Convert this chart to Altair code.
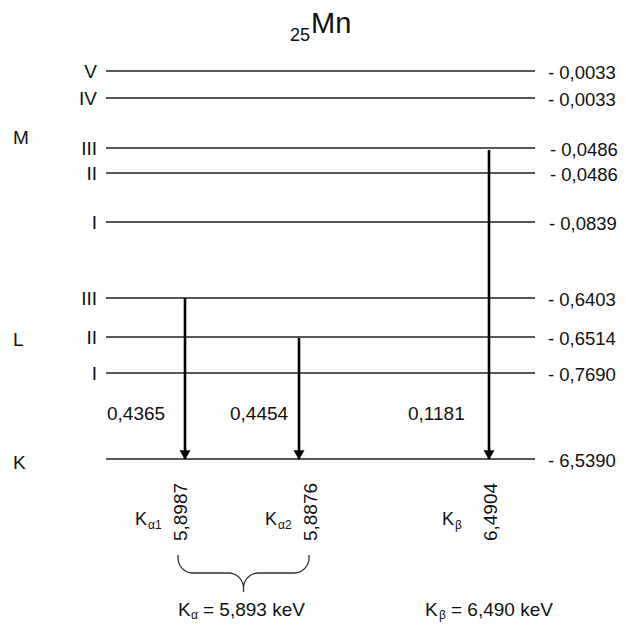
import altair as alt
import pandas as pd
import numpy as np

FONT = "Liberation Sans"
INK = "#111111"

# ---- title ----
title_symbol = "Mn"
title_z = "25"
title_pos = [311, 33]      # x, baseline y of symbol
title_z_pos = [310, 41]

# ---- shells (left labels) ----
shell_names = ["M", "L", "K"]
shell_y = [138, 340, 463]
shell_x = 13

# ---- levels ----
level_sub = ["V", "IV", "III", "II", "I", "III", "II", "I", ""]
level_energy = ["- 0,0033", "- 0,0033", "- 0,0486", "- 0,0486", "- 0,0839",
                "- 0,6403", "- 0,6514", "- 0,7690", "- 6,5390"]
level_y = [71, 98, 148, 173, 222, 298, 337, 373, 459]
level_label_x = [548, 548, 550, 550, 549, 548, 548, 548, 548]
line_x_start = 106
line_x_end = 535
sub_label_x = 97

# ---- transitions ----
trans_sym = ["K", "K", "K"]
trans_sub = ["α1", "α2", "β"]
trans_from_y = [298, 338, 150]
trans_to_y = [459, 459, 459]
trans_x = [185, 299, 489]
trans_delta = ["0,4365", "0,4454", "0,1181"]
trans_delta_x = [107, 230, 408]
trans_delta_y = [414, 414, 414]
trans_energy = ["5,8987", "5,8876", "6,4904"]
trans_energy_x = [187, 317, 497]
trans_energy_y = [512, 512, 512]
trans_k_x = [135, 265, 442]
trans_sub_x = [148, 278, 455]
trans_k_y = 525

# ---- summary ----
sum_sym = ["K", "K"]
sum_sub = ["α", "β"]
sum_text = ["= 5,893 keV", "= 6,490 keV"]
sum_k_x = [178, 425]
sum_sub_x = [191, 439]
sum_text_x = [203, 451]
sum_y = 616

# ---- brace under Kα1 / Kα2 ----
brace_left, brace_right = 178, 309
brace_top, brace_bar, brace_tip = 555, 573, 592
brace_r = 15

def arc(cx, cy, r, a0, a1, n=10):
    t = np.linspace(a0, a1, n)
    return list(zip(cx + r * np.cos(t), cy + r * np.sin(t)))

mid = (brace_left + brace_right) / 2
pts = [(brace_left, brace_top)]
pts += arc(brace_left + brace_r, brace_bar - brace_r, brace_r, np.pi, np.pi / 2)
pts += arc(mid - brace_r, brace_bar + brace_r, brace_r, -np.pi / 2, 0)
pts += [(mid, brace_tip)]
pts += arc(mid + brace_r, brace_bar + brace_r, brace_r, np.pi, 3 * np.pi / 2)
pts += arc(brace_right - brace_r, brace_bar - brace_r, brace_r, np.pi / 2, 0)
pts += [(brace_right, brace_top)]
brace_df = pd.DataFrame({"x": [p[0] for p in pts], "y": [p[1] for p in pts],
                         "o": list(range(len(pts)))})

# ---- scales (diagram units = picture pixels) ----
XS = alt.Scale(domain=[8, 618], nice=False, zero=False)
YS = alt.Scale(domain=[8, 622], nice=False, zero=False, reverse=True)

def X(f="x"):
    return alt.X(f"{f}:Q", scale=XS, axis=None)

def Y(f="y"):
    return alt.Y(f"{f}:Q", scale=YS, axis=None)

levels = pd.DataFrame({"sub": level_sub, "energy": level_energy, "y": level_y,
                       "lx": level_label_x, "x0": line_x_start, "x1": line_x_end,
                       "sx": sub_label_x})
shells = pd.DataFrame({"name": shell_names, "y": shell_y, "x": shell_x})
trans = pd.DataFrame({"k": trans_sym, "sub": trans_sub, "y0": trans_from_y, "y1": trans_to_y,
                      "x": trans_x, "delta": trans_delta, "dx": trans_delta_x,
                      "dy": trans_delta_y, "energy": trans_energy, "ex": trans_energy_x,
                      "ey": trans_energy_y, "kx": trans_k_x, "subx": trans_sub_x,
                      "ky": trans_k_y})
summ = pd.DataFrame({"k": sum_sym, "sub": sum_sub, "text": sum_text, "kx": sum_k_x,
                     "subx": sum_sub_x, "tx": sum_text_x, "y": sum_y})
title_df = pd.DataFrame({"t": [title_symbol], "x": [title_pos[0]], "y": [title_pos[1]],
                         "z": [title_z], "zx": [title_z_pos[0]], "zy": [title_z_pos[1]]})

lines = alt.Chart(levels).mark_rule(color="#222222", strokeWidth=1.4).encode(
    x=X("x0"), x2="x1", y=Y())
sub_labels = alt.Chart(levels).mark_text(align="right", baseline="middle", fontSize=19,
                                         font=FONT, color=INK, dy=1).encode(
    x=X("sx"), y=Y(), text="sub:N")
energy_labels = alt.Chart(levels).mark_text(align="left", baseline="middle", fontSize=18.5,
                                            font=FONT, color=INK, dy=2).encode(
    x=X("lx"), y=Y(), text="energy:N")
shell_labels = alt.Chart(shells).mark_text(align="left", baseline="middle", fontSize=19,
                                           font=FONT, color=INK).encode(
    x=X(), y=Y(), text="name:N")

shafts = alt.Chart(trans).mark_rule(color="black", strokeWidth=2.6).encode(
    x=X(), y=Y("y0"), y2="y1")
heads = alt.Chart(trans).mark_point(shape="triangle-down", filled=True, size=121,
                                    color="black", opacity=1).encode(
    x=X(), y=Y("y1"), yOffset=alt.value(-4))
deltas = alt.Chart(trans).mark_text(align="left", baseline="middle", fontSize=19,
                                    font=FONT, color=INK).encode(
    x=X("dx"), y=Y("dy"), text="delta:N")
energies = alt.Chart(trans).mark_text(align="center", baseline="alphabetic", angle=270,
                                      fontSize=19, font=FONT, color=INK).encode(
    x=X("ex"), y=Y("ey"), text="energy:N")
klab = alt.Chart(trans).mark_text(align="left", baseline="alphabetic", fontSize=18,
                                  font=FONT, color=INK).encode(
    x=X("kx"), y=Y("ky"), text="k:N")
ksub = alt.Chart(trans).mark_text(align="left", baseline="alphabetic", fontSize=12,
                                  font=FONT, color=INK, dy=4).encode(
    x=X("subx"), y=Y("ky"), text="sub:N")

brace = alt.Chart(brace_df).mark_line(color="#333333", strokeWidth=1.3).encode(
    x=X(), y=Y(), order="o:Q")

sk = alt.Chart(summ).mark_text(align="left", baseline="alphabetic", fontSize=19,
                               font=FONT, color=INK).encode(
    x=X("kx"), y=Y(), text="k:N")
ssub = alt.Chart(summ).mark_text(align="left", baseline="alphabetic", fontSize=12,
                                 font=FONT, color=INK, dy=3).encode(
    x=X("subx"), y=Y(), text="sub:N")
stext = alt.Chart(summ).mark_text(align="left", baseline="alphabetic", fontSize=19,
                                  font=FONT, color=INK).encode(
    x=X("tx"), y=Y(), text="text:N")

t_sym = alt.Chart(title_df).mark_text(align="left", baseline="alphabetic", fontSize=29,
                                      font=FONT, color=INK).encode(
    x=X(), y=Y(), text="t:N")
t_z = alt.Chart(title_df).mark_text(align="right", baseline="alphabetic", fontSize=18,
                                    font=FONT, color=INK).encode(
    x=X("zx"), y=Y("zy"), text="z:N")

chart = alt.layer(
    lines, sub_labels, energy_labels, shell_labels, shafts, heads, deltas, energies,
    klab, ksub, brace, sk, ssub, stext, t_sym, t_z
).properties(
    width=610, height=614, autosize=alt.AutoSizeParams(type="none"), padding=0,
    background="white"
).configure_view(stroke=None)

chart.save("out.html", embed_options={"renderer": "svg", "actions": False})
